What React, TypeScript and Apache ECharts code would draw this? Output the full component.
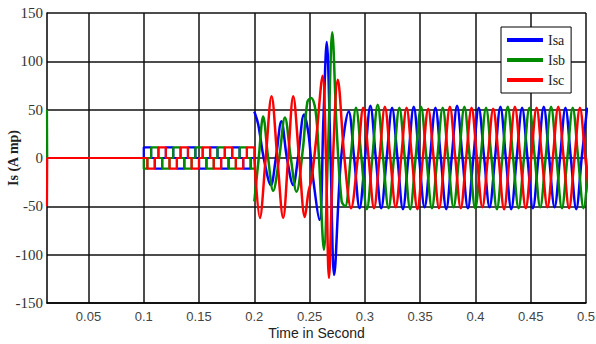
import React, { useEffect, useRef } from "react";
import * as echarts from "echarts";

const xTickValues = [0.05, 0.1, 0.15, 0.2, 0.25, 0.3, 0.35, 0.4, 0.45, 0.5];
const legendNames = ["Isa", "Isb", "Isc"];
const seriesColors = ["#0000ff", "#008a00", "#ff0000"];

// 0.0125 .. 0.2 : start-up spike, zero, then small switching currents (held values)
const isaSwitching: [number, number][] = [
  [0.0125, 0], [0.1, 11], [0.1067, 0], [0.11, -11], [0.1167, 0], [0.12, 11], [0.1267, 0],
  [0.13, -11], [0.1367, 0], [0.14, 11], [0.1467, 0], [0.15, -11], [0.1567, 0], [0.16, 11],
  [0.1667, 0], [0.17, -11], [0.1767, 0], [0.18, 11], [0.1867, 0], [0.19, -11], [0.1967, 0], [0.2, 0],
];
const isbSwitching: [number, number][] = [
  [0.0125, 50], [0.0127, 0], [0.1, -11], [0.1033, 0], [0.1067, 11], [0.1133, 0], [0.1167, -11],
  [0.1233, 0], [0.1267, 11], [0.1333, 0], [0.1367, -11], [0.1433, 0], [0.1467, 11], [0.1533, 0],
  [0.1567, -11], [0.1633, 0], [0.1667, 11], [0.1733, 0], [0.1767, -11], [0.1833, 0], [0.1867, 11],
  [0.1933, 0], [0.1967, -11], [0.2, -11],
];
const iscSwitching: [number, number][] = [
  [0.0125, -50], [0.0127, 0], [0.1, 0], [0.1033, -11], [0.11, 0], [0.1133, 11], [0.12, 0],
  [0.1233, -11], [0.13, 0], [0.1333, 11], [0.14, 0], [0.1433, -11], [0.15, 0], [0.1533, 11],
  [0.16, 0], [0.1633, -11], [0.17, 0], [0.1733, 11], [0.18, 0], [0.1833, -11], [0.19, 0],
  [0.1933, 11], [0.2, 0],
];

// 0.2 .. 0.5 : transient and steady state
const isaMain: [number, number][] = [
  [0.2, 48], [0.2035, 35], [0.2085, 0], [0.215, -28], [0.2195, 0], [0.2245, 38], [0.2295, 0],
  [0.2352, -28], [0.2395, 0], [0.245, 45], [0.249, 25], [0.2525, -15], [0.259, -64], [0.2625, 40],
  [0.2655, 120], [0.269, 0], [0.2722, -121], [0.2785, 0],
  [0.2854, 48], [0.2903, 0], [0.2952, -52], [0.3001, 0],
  [0.305, 54], [0.3099, 0], [0.3148, -52], [0.3197, 0],
  [0.3246, 52], [0.3295, 0], [0.3344, -53], [0.3393, 0],
  [0.3442, 53], [0.3491, 0], [0.354, -51], [0.3589, 0],
  [0.3638, 52], [0.3687, 0], [0.3736, -53], [0.3785, 0],
  [0.3834, 54], [0.3883, 0], [0.3932, -52], [0.3981, 0],
  [0.403, 52], [0.4079, 0], [0.4128, -51], [0.4177, 0],
  [0.4226, 53], [0.4275, 0], [0.4324, -53], [0.4373, 0],
  [0.4422, 52], [0.4471, 0], [0.452, -52], [0.4569, 0],
  [0.4618, 53], [0.4667, 0], [0.4716, -51], [0.4765, 0],
  [0.4814, 52], [0.4863, 0], [0.4912, -53], [0.4961, 0], [0.501, 52],
];
const isbMain: [number, number][] = [
  [0.2, -45], [0.204, 0], [0.208, 43], [0.2125, 0], [0.2171, -34], [0.2225, 0], [0.2277, 42],
  [0.233, 0], [0.2382, -35], [0.244, 10], [0.248, 58], [0.2515, 62], [0.2555, 48], [0.2585, 0],
  [0.263, -95], [0.267, 20], [0.2705, 130], [0.2745, 30], [0.279, -45], [0.2822, -50], [0.2871, 0],
  [0.292, 52], [0.2969, 0], [0.3018, -53], [0.3067, 0],
  [0.3116, 55], [0.3165, 0], [0.3214, -52], [0.3263, 0],
  [0.3312, 52], [0.3361, 0], [0.341, -53], [0.3459, 0],
  [0.3508, 53], [0.3557, 0], [0.3606, -52], [0.3655, 0],
  [0.3704, 52], [0.3753, 0], [0.3802, -51], [0.3851, 0],
  [0.39, 53], [0.3949, 0], [0.3998, -52], [0.4047, 0],
  [0.4096, 52], [0.4145, 0], [0.4194, -53], [0.4243, 0],
  [0.4292, 53], [0.4341, 0], [0.439, -52], [0.4439, 0],
  [0.4488, 52], [0.4537, 0], [0.4586, -51], [0.4635, 0],
  [0.4684, 53], [0.4733, 0], [0.4782, -52], [0.4831, 0],
  [0.488, 52], [0.4929, 0], [0.4978, -52], [0.5027, 0],
];
const iscMain: [number, number][] = [
  [0.2, 0], [0.205, -62], [0.2103, 0], [0.2156, 64], [0.2208, 0], [0.2261, -62], [0.2306, 0],
  [0.2352, 64], [0.2405, 0], [0.2457, -61], [0.249, -35], [0.2518, -22], [0.256, 20], [0.2618, 85],
  [0.2648, 0], [0.2675, -124], [0.2712, 0], [0.2755, 81], [0.2815, 0], [0.2875, -52], [0.2936, 0],
  [0.2985, 52], [0.3034, 0], [0.3083, -52], [0.3132, 0],
  [0.3181, 53], [0.323, 0], [0.3279, -51], [0.3328, 0],
  [0.3377, 52], [0.3426, 0], [0.3475, -53], [0.3524, 0],
  [0.3573, 51], [0.3622, 0], [0.3671, -52], [0.372, 0],
  [0.3769, 53], [0.3818, 0], [0.3867, -52], [0.3916, 0],
  [0.3965, 52], [0.4014, 0], [0.4063, -51], [0.4112, 0],
  [0.4161, 51], [0.421, 0], [0.4259, -53], [0.4308, 0],
  [0.4357, 53], [0.4406, 0], [0.4455, -52], [0.4504, 0],
  [0.4553, 52], [0.4602, 0], [0.4651, -51], [0.47, 0],
  [0.4749, 53], [0.4798, 0], [0.4847, -52], [0.4896, 0],
  [0.4945, 52], [0.4994, 0], [0.5043, -52],
];

export default function App() {
  const ref = useRef<HTMLDivElement>(null);
  useEffect(() => {
    if (!ref.current) return;
    const chart = echarts.init(ref.current, null, { renderer: "svg" });
    const switching = [isaSwitching, isbSwitching, iscSwitching];
    const main = [isaMain, isbMain, iscMain];
    const series: any[] = [];
    switching.forEach((d, i) =>
      series.push({
        name: legendNames[i],
        type: "line",
        data: d,
        step: "end",
        showSymbol: false,
        symbol: "none",
        color: seriesColors[i],
        lineStyle: { width: 2.2, color: seriesColors[i] },
      })
    );
    main.forEach((d, i) =>
      series.push({
        name: legendNames[i],
        type: "line",
        data: d,
        smooth: 0.35,
        showSymbol: false,
        symbol: "none",
        color: seriesColors[i],
        lineStyle: { width: 2.5, color: seriesColors[i] },
      })
    );
    chart.setOption({
      animation: false,
      backgroundColor: "#ffffff",
      grid: { left: 47, right: 10, top: 13, bottom: 41, containLabel: false, outerBoundsMode: "none" },
      legend: {
        data: legendNames,
        orient: "vertical",
        left: 501,
        top: 27,
        icon: "rect",
        itemWidth: 36,
        itemHeight: 4,
        itemGap: 6,
        padding: [6, 6, 6, 6],
        borderColor: "#000",
        borderWidth: 1,
        backgroundColor: "#fff",
        textStyle: { fontFamily: "Liberation Serif", fontSize: 14, color: "#222", lineHeight: 14 },
      },
      xAxis: {
        type: "value",
        min: 0.0125,
        max: 0.5,
        name: "Time in Second",
        nameLocation: "middle",
        nameGap: 23,
        nameMoveOverlap: false,
        nameTextStyle: { fontFamily: "Liberation Sans", fontSize: 14, color: "#222" },
        axisLine: { onZero: false, lineStyle: { color: "#000", width: 1.5 } },
        axisTick: { show: false, customValues: xTickValues },
        axisLabel: {
          customValues: xTickValues,
          fontFamily: "Liberation Sans",
          fontSize: 13,
          color: "#444",
          margin: 7,
          formatter: (v: number) => String(+v.toFixed(4)),
        },
        splitLine: { show: true, lineStyle: { color: "#111", width: 1.5 } },
      },
      yAxis: {
        type: "value",
        min: -150,
        max: 150,
        interval: 50,
        name: "Is (A mp)",
        nameLocation: "middle",
        nameGap: 27,
        nameMoveOverlap: false,
        nameTextStyle: { fontFamily: "Liberation Serif", fontSize: 14, fontWeight: "bold", color: "#222" },
        axisLine: { show: true, lineStyle: { color: "#000", width: 1.5 } },
        axisTick: { show: false },
        axisLabel: { fontFamily: "Liberation Serif", fontSize: 15, color: "#333", margin: 4 },
        splitLine: { show: true, lineStyle: { color: "#111", width: 1.5 } },
      },
      series,
    });
    return () => chart.dispose();
  }, []);
  return (
    <div
      ref={ref}
      style={{ position: "fixed", left: 0, top: 0, width: 596, height: 344, background: "#fff" }}
    />
  );
}
